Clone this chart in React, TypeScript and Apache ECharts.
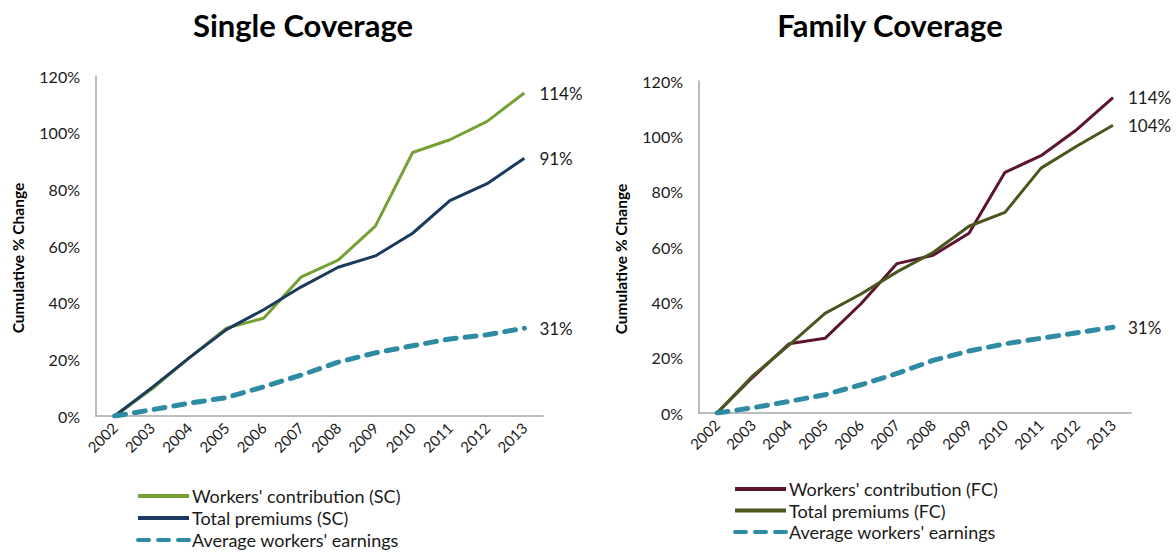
import React, { useEffect, useRef } from "react";
import * as echarts from "echarts";

const years = ["2002", "2003", "2004", "2005", "2006", "2007", "2008", "2009", "2010", "2011", "2012", "2013"];
const yTicks = [0, 20, 40, 60, 80, 100, 120];

const scWorkers = [0, 9.5, 20.5, 31, 34.5, 49, 55, 67, 93, 97.5, 104, 114];
const scPremiums = [0, 10, 20.5, 30.5, 37.5, 45.5, 52.5, 56.5, 64.5, 76, 82, 91];
const scEarnings = [0, 2.2, 4.5, 6.5, 10.3, 14.4, 19, 22.3, 24.8, 27.2, 28.7, 31];

const fcWorkers = [0, 13, 25, 27, 39.5, 54, 57, 65, 87, 93, 102.5, 114];
const fcPremiums = [0, 13.5, 24.5, 36, 43, 51, 58, 67.5, 72.5, 88.5, 96.5, 104];
const fcEarnings = [0, 1.9, 4.2, 6.6, 10.2, 14.3, 19, 22.4, 25, 27, 29, 31];

const titles = ["Single Coverage", "Family Coverage"];
const scNames = ["Workers' contribution (SC)", "Total premiums (SC)", "Average workers' earnings"];
const fcNames = ["Workers' contribution (FC)", "Total premiums (FC)", "Average workers' earnings"];
const yName = "Cumulative % Change";

const FONT = "Lato, 'Open Sans', sans-serif";

export default function App() {
  const ref = useRef<HTMLDivElement>(null);
  useEffect(() => {
    if (!ref.current) return;
    const chart = echarts.init(ref.current, null, { renderer: "svg" });

    const axisColor = "#A6A6A6";
    const mkX = (gridIndex: number) => ({
      type: "category",
      gridIndex,
      data: years,
      boundaryGap: true,
      axisLine: { lineStyle: { color: axisColor, width: 1.5 } },
      axisTick: { show: false },
      axisLabel: { rotate: 45, color: "#1a1a1a", fontSize: 15, fontFamily: FONT, margin: 9, interval: 0 },
      splitLine: { show: false },
    });
    const mkY = (gridIndex: number, gap: number) => ({
      type: "value",
      gridIndex,
      min: 0,
      max: 120,
      interval: 20,
      name: yName,
      nameLocation: "middle",
      nameGap: gap,
      nameTextStyle: { fontSize: 15.5, fontWeight: "bold", color: "#000", fontFamily: FONT, padding: [0, 24, 0, 0] },
      axisLine: { show: true, lineStyle: { color: axisColor, width: 1.5 } },
      axisTick: { show: false },
      splitLine: { show: false },
      axisLabel: {
        color: "#1a1a1a",
        fontSize: 16,
        fontFamily: FONT,
        margin: 16,
        formatter: (v: number) => (yTicks.includes(v) ? v + "%" : ""),
      },
    });

    const endLabel = (val: number) => ({
      show: true,
      distance: 15,
      formatter: () => Math.round(val) + "%",
      color: "#1a1a1a",
      fontSize: 17,
      fontFamily: FONT,
    });

    const solid = (name: string, data: number[], color: string, idx: number) => ({
      type: "line",
      name,
      data,
      xAxisIndex: idx,
      yAxisIndex: idx,
      symbol: "none",
      lineStyle: { color, width: 3 },
      itemStyle: { color },
      endLabel: endLabel(data[data.length - 1]),
    });
    const dashed = (name: string, data: number[], idx: number) => ({
      type: "line",
      name,
      data,
      xAxisIndex: idx,
      yAxisIndex: idx,
      symbol: "none",
      lineStyle: { color: "#2E8BA3", width: 5, type: [11, 9], cap: "round" },
      itemStyle: { color: "#2E8BA3" },
      endLabel: endLabel(data[data.length - 1]),
    });

    const legendBase = {
      orient: "vertical",
      itemWidth: 51,
      itemHeight: 14,
      itemGap: 4,
      padding: 0,
      height: 80,
      itemStyle: { opacity: 0 },
      lineStyle: { width: 4 },
      textStyle: { fontSize: 18, lineHeight: 16, color: "#1a1a1a", fontFamily: FONT, padding: [0, 0, 0, -2] },
      selectedMode: false,
    };

    chart.setOption({
      animation: false,
      backgroundColor: "#fff",
      title: [
        { text: titles[0], left: 298, top: 4, textAlign: "center", textStyle: { fontSize: 31, fontWeight: "bold", color: "#000", fontFamily: FONT } },
        { text: titles[1], left: 885, top: 4, textAlign: "center", textStyle: { fontSize: 31, fontWeight: "bold", color: "#000", fontFamily: FONT } },
      ],
      grid: [
        { left: 96, top: 76, width: 447, height: 340 },
        { left: 699, top: 81, width: 432, height: 332 },
      ],
      xAxis: [mkX(0), mkX(1)],
      yAxis: [mkY(0, 70), mkY(1, 70)],
      legend: [
        { ...legendBase, data: scNames, left: 136, top: 487 },
        { ...legendBase, data: fcNames, left: 733, top: 480, itemGap: 3.5 },
      ],
      series: [
        solid(scNames[0], scWorkers, "#76A035", 0),
        solid(scNames[1], scPremiums, "#1B3A60", 0),
        dashed(scNames[2], scEarnings, 0),
        solid(fcNames[0], fcWorkers, "#5C1430", 1),
        solid(fcNames[1], fcPremiums, "#4A561E", 1),
        dashed(fcNames[2], fcEarnings, 1),
      ],
    });
    return () => chart.dispose();
  }, []);
  return <div ref={ref} style={{ position: "fixed", left: 0, top: 0, width: 1176, height: 552 }} />;
}
